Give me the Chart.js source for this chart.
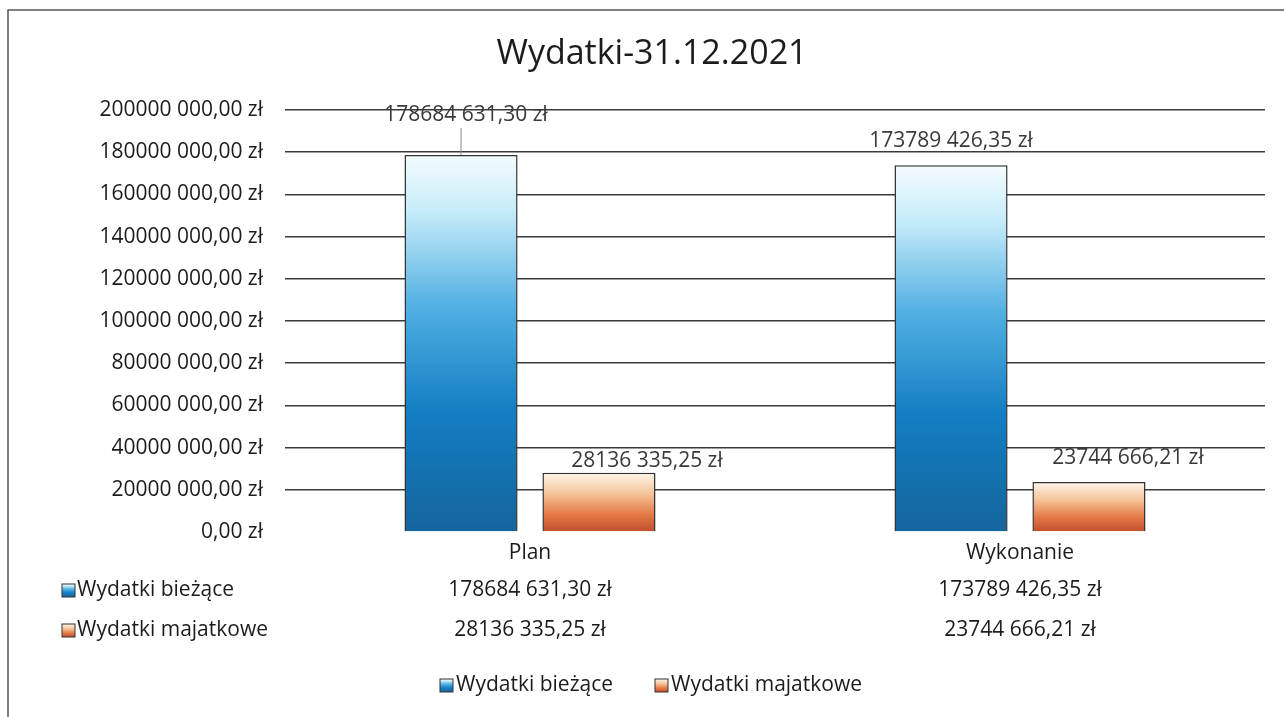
<!DOCTYPE html>
<html lang="pl">
<head>
<meta charset="utf-8">
<title>Wydatki-31.12.2021</title>
<script src="https://cdn.jsdelivr.net/npm/chart.js@4"></script>
<style>
    html, body { margin: 0; padding: 0; background: #fff; }
    #wrap { width: 1284px; height: 717px; position: relative; }
</style>
</head>
<body>
<div id="wrap"><canvas id="chart" width="1284" height="717"></canvas></div>
<script>
// Chart data
const categories = ['Plan', 'Wykonanie'];
const seriesNames = ['Wydatki bieżące', 'Wydatki majatkowe'];
const biezace = [178684631.30, 173789426.35];
const majatkowe = [28136335.25, 23744666.21];
const yTicks = [0, 20000000, 40000000, 60000000, 80000000, 100000000, 120000000, 140000000, 160000000, 180000000, 200000000];

const FONT = '"Open Sans", "Noto Sans", sans-serif';
const TEXT = '#1c1c1c';
const SIZE = 21;

// "178684 631,30 zł" - only the last thousands group is separated
function formatZl(v) {
    const parts = v.toFixed(2).split('.');
    let s = parts[0];
    if (s.length > 3) s = s.slice(0, -3) + ' ' + s.slice(-3);
    return s + ',' + parts[1] + ' zł';
}

// colour stops for each series (top -> bottom)
const gradStops = [
    [[0, '#f4fcfe'], [0.15, '#c6ecf9'], [0.4, '#52b0e3'], [0.68, '#137ec3'], [1, '#15659d']],
    [[0, '#fdf7ec'], [0.35, '#f6c59a'], [0.7, '#e57a47'], [1, '#c04e2c']]
];

function makeGradient(ctx, top, bottom, stops) {
    const g = ctx.createLinearGradient(0, top, 0, bottom);
    stops.forEach(s => g.addColorStop(s[0], s[1]));
    return g;
}

function barFill(context) {
    const chart = context.chart;
    const y = chart.scales.y;
    const fallback = gradStops[context.datasetIndex][2][1];
    if (!y || context.dataIndex === undefined) return fallback;
    const v = context.dataset.data[context.dataIndex];
    const top = y.getPixelForValue(v);
    const bottom = y.getPixelForValue(0);
    if (!isFinite(top) || !isFinite(bottom) || top === bottom) return fallback;
    return makeGradient(chart.ctx, top, bottom, gradStops[context.datasetIndex]);
}

// label offsets relative to the top centre of each bar [dataset][category]
const labelShift = [
    [[5, -40], [0, -24]],
    [[48, -12], [39, -24]]
];

const extrasPlugin = {
    id: 'extras',
    afterDraw(chart) {
        const ctx = chart.ctx;
        const x = chart.scales.x;
        ctx.save();

        // frame
        ctx.strokeStyle = '#555';
        ctx.lineWidth = 1.5;
        ctx.beginPath();
        ctx.moveTo(8, 717);
        ctx.lineTo(8, 10);
        ctx.lineTo(1284, 10);
        ctx.stroke();

        // title
        ctx.fillStyle = TEXT;
        ctx.font = '34px ' + FONT;
        ctx.textAlign = 'center';
        ctx.textBaseline = 'middle';
        ctx.fillText('Wydatki-31.12.2021', 652, 54);

        // data labels
        ctx.font = SIZE + 'px ' + FONT;
        chart.data.datasets.forEach((ds, di) => {
            const meta = chart.getDatasetMeta(di);
            meta.data.forEach((bar, i) => {
                const [dx, dy] = labelShift[di][i];
                const lx = bar.x + dx, ly = bar.y + dy;
                ctx.fillStyle = '#3a3a3a';
                ctx.fillText(formatZl(ds.data[i]), lx, ly);
                if (dy < -30) {
                    ctx.strokeStyle = '#8a8a8a';
                    ctx.lineWidth = 1;
                    ctx.beginPath();
                    ctx.moveTo(bar.x, ly + 13);
                    ctx.lineTo(bar.x, bar.y);
                    ctx.stroke();
                }
            });
        });

        // data table
        const rowsY = [590, 630];
        chart.data.datasets.forEach((ds, di) => {
            const ry = rowsY[di];
            ctx.fillStyle = makeGradient(ctx, ry - 6, ry + 7, gradStops[di]);
            ctx.fillRect(62, ry - 6, 13, 13);
            ctx.strokeStyle = '#333';
            ctx.lineWidth = 1;
            ctx.strokeRect(62, ry - 6, 13, 13);
            ctx.fillStyle = TEXT;
            ctx.textAlign = 'left';
            ctx.fillText(ds.label, 77, ry);
            ctx.textAlign = 'center';
            ds.data.forEach((v, i) => {
                ctx.fillText(formatZl(v), x.getPixelForValue(i), ry);
            });
        });

        // legend
        const legendY = 685;
        const legendX = [440, 655];
        chart.data.datasets.forEach((ds, di) => {
            const lx = legendX[di];
            ctx.fillStyle = makeGradient(ctx, legendY - 6, legendY + 7, gradStops[di]);
            ctx.fillRect(lx, legendY - 6, 13, 13);
            ctx.strokeStyle = '#333';
            ctx.strokeRect(lx, legendY - 6, 13, 13);
            ctx.fillStyle = TEXT;
            ctx.textAlign = 'left';
            ctx.fillText(ds.label, lx + 16, legendY);
        });

        ctx.restore();
    }
};

new Chart(document.getElementById('chart'), {
    type: 'bar',
    data: {
        labels: categories,
        datasets: [
            {
                label: seriesNames[0],
                data: biezace,
                backgroundColor: barFill,
                borderColor: '#333333',
                borderWidth: 1.5,
                categoryPercentage: 0.563,
                barPercentage: 0.82
            },
            {
                label: seriesNames[1],
                data: majatkowe,
                backgroundColor: barFill,
                borderColor: '#333333',
                borderWidth: 1.5,
                categoryPercentage: 0.563,
                barPercentage: 0.82
            }
        ]
    },
    options: {
        responsive: false,
        animation: false,
        layout: {
            padding: { left: 0, right: 19, top: 110, bottom: 145 }
        },
        plugins: {
            legend: { display: false },
            title: { display: false },
            tooltip: { enabled: false }
        },
        scales: {
            x: {
                afterFit(scale) { scale.height = 40; },
                grid: { display: false, drawTicks: false },
                border: { display: false },
                ticks: {
                    padding: 8,
                    color: TEXT,
                    font: { family: FONT, size: SIZE }
                }
            },
            y: {
                min: 0,
                max: 200000000,
                afterFit(scale) { scale.width = 285; },
                afterBuildTicks(scale) {
                    scale.ticks = yTicks.map(v => ({ value: v }));
                },
                grid: {
                    drawTicks: false,
                    color: ctx => ctx.tick && ctx.tick.value === 0 ? 'rgba(0,0,0,0)' : '#3a3a3a',
                    lineWidth: 1.6
                },
                border: { display: false },
                ticks: {
                    padding: 22,
                    color: TEXT,
                    font: { family: FONT, size: SIZE },
                    callback: v => formatZl(v)
                }
            }
        }
    },
    plugins: [extrasPlugin]
});
</script>
</body>
</html>
